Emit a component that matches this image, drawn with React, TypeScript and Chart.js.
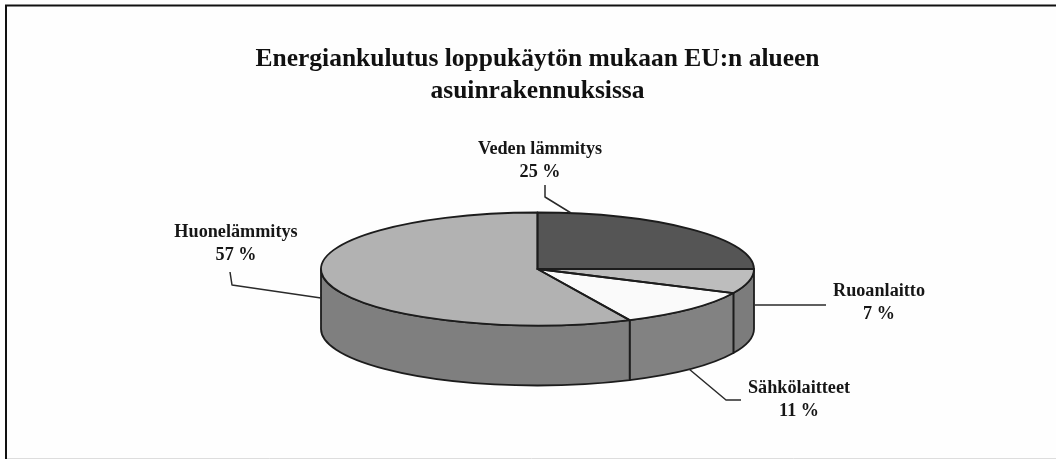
import React, { useEffect, useRef } from "react";
import { Chart, registerables } from "chart.js";

Chart.register(...registerables);

const categories = ["Veden lämmitys", "Ruoanlaitto", "Sähkölaitteet", "Huonelämmitys"];
const shares = [25, 7, 11, 57];
const topColors = ["#555555", "#bdbdbd", "#fafafa", "#b2b2b2"];
const sideColors = ["#4a4a4a", "#7c7c7c", "#828282", "#7f7f7f"];
const titleLines = ["Energiankulutus loppukäytön mukaan EU:n alueen", "asuinrakennuksissa"];

const SERIF = "'Liberation Serif', serif";
const INK = "#1c1c1c";

// Where the flat Chart.js pie is projected to
const view = { cx: 537.5, cy: 269, rx: 216.5, ry: 56.5, depth: 60 };

// Callout text and leader layout
const callouts = [
  { x: 540, y: 149, line: [[545, 185], [545, 197], [571, 213]] },
  { x: 879, y: 291, line: [[755, 305], [826, 305]] },
  { x: 799, y: 388, line: [[689, 369], [726, 400], [741, 400]] },
  { x: 236, y: 232, line: [[321, 298], [232, 285], [230, 272]] },
];

const pie3d = {
  id: "pie3d",
  beforeDraw(chart: any) {
    const { ctx, width, height } = chart;
    ctx.save();
    ctx.fillStyle = "#fefefe";
    ctx.fillRect(0, 0, width, height);
    ctx.strokeStyle = "#111111";
    ctx.lineWidth = 2;
    ctx.beginPath();
    ctx.moveTo(width, 5.5);
    ctx.lineTo(6, 5.5);
    ctx.lineTo(6, height);
    ctx.stroke();
    ctx.strokeStyle = "#dddddd";
    ctx.lineWidth = 1;
    ctx.beginPath();
    ctx.moveTo(7, height - 0.5);
    ctx.lineTo(width, height - 0.5);
    ctx.stroke();
    ctx.restore();
  },
  beforeDatasetsDraw(chart: any) {
    const { ctx } = chart;
    const arcs = chart.getDatasetMeta(0).data;
    const { cx, cy, rx, ry, depth } = view;
    ctx.save();
    ctx.lineJoin = "round";
    arcs.forEach((arc: any, i: number) => {
      const p = arc.getProps(["startAngle", "endAngle"], true);
      const a = Math.max(p.startAngle, 0);
      const b = Math.min(p.endAngle, Math.PI);
      if (b <= a) return;
      ctx.beginPath();
      ctx.ellipse(cx, cy, rx, ry, 0, a, b);
      ctx.lineTo(cx + rx * Math.cos(b), cy + ry * Math.sin(b) + depth);
      ctx.ellipse(cx, cy + depth, rx, ry, 0, b, a, true);
      ctx.closePath();
      ctx.fillStyle = sideColors[i];
      ctx.fill();
      ctx.strokeStyle = INK;
      ctx.lineWidth = 1.8;
      ctx.stroke();
    });
    // project the library's flat pie onto the tilted disc
    const first = arcs[0].getProps(["x", "y", "outerRadius"], true);
    ctx.translate(cx, cy);
    ctx.scale(rx / first.outerRadius, ry / first.outerRadius);
    ctx.translate(-first.x, -first.y);
  },
  afterDatasetsDraw(chart: any) {
    const { ctx } = chart;
    ctx.restore();
    const arcs = chart.getDatasetMeta(0).data;
    const { cx, cy, rx, ry } = view;
    ctx.save();
    ctx.lineJoin = "round";
    ctx.strokeStyle = INK;
    ctx.lineWidth = 1.8;
    arcs.forEach((arc: any) => {
      const p = arc.getProps(["startAngle", "endAngle"], true);
      ctx.beginPath();
      ctx.moveTo(cx, cy);
      ctx.ellipse(cx, cy, rx, ry, 0, p.startAngle, p.endAngle);
      ctx.closePath();
      ctx.stroke();
    });
    ctx.strokeStyle = "#2a2a2a";
    ctx.lineWidth = 1.5;
    callouts.forEach((c) => {
      ctx.beginPath();
      c.line.forEach(([x, y], i) => (i ? ctx.lineTo(x, y) : ctx.moveTo(x, y)));
      ctx.stroke();
    });
    ctx.fillStyle = "#161616";
    ctx.textAlign = "center";
    ctx.textBaseline = "middle";
    ctx.font = `bold 18.2px ${SERIF}`;
    callouts.forEach((c, i) => {
      ctx.fillText(categories[i], c.x, c.y);
      ctx.fillText(`${shares[i]} %`, c.x, c.y + 23);
    });
    ctx.restore();
  },
};

export default function App() {
  const ref = useRef<HTMLCanvasElement>(null);
  useEffect(() => {
    document.body.style.margin = "0";
    const chart = new Chart(ref.current!, {
      type: "pie",
      data: {
        labels: categories,
        datasets: [{ data: shares, backgroundColor: topColors, borderWidth: 0 }],
      },
      options: {
        responsive: false,
        animation: false,
        events: [],
        layout: { padding: { top: 44, left: 19, bottom: 20 } },
        plugins: {
          legend: { display: false },
          tooltip: { enabled: false },
          title: {
            display: true,
            text: titleLines,
            color: "#111111",
            font: { family: SERIF, size: 25.5, weight: "bold", lineHeight: 1.24 },
            padding: { top: 0, bottom: 10 },
          },
        },
      },
      plugins: [pie3d],
    } as any);
    return () => chart.destroy();
  }, []);
  return <canvas ref={ref} width={1056} height={459} style={{ display: "block", filter: "blur(0.35px)" }} />;
}
